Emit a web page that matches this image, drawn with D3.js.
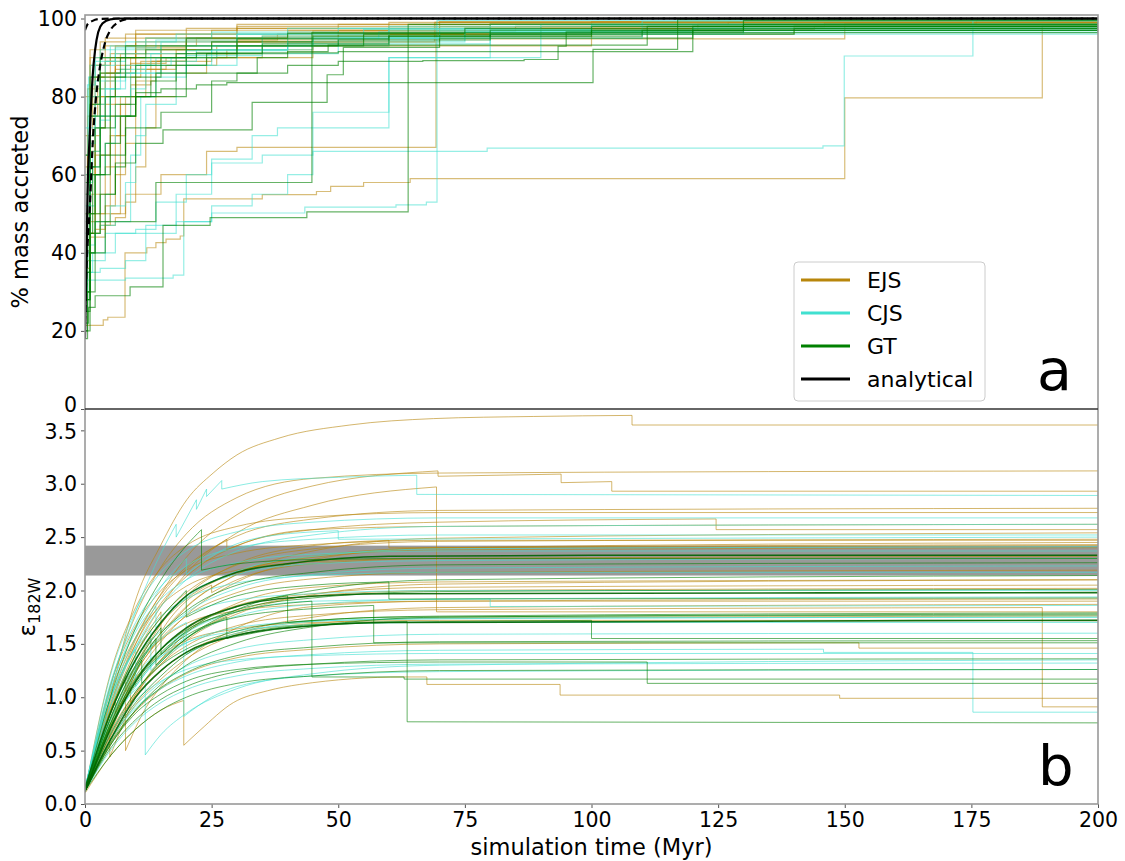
<!DOCTYPE html>
<html><head><meta charset="utf-8">
<script src="https://cdn.jsdelivr.net/npm/d3@7"></script>
<style>
body{margin:0;background:#fff;}
text{font-family:"DejaVu Sans",sans-serif;}
</style></head>
<body><svg id="c" width="1125" height="861"></svg>
<script>
// ---------- DATA ----------
const xTicks = [0,25,50,75,100,125,150,175,200];
const topTicks = [0,20,40,60,80,100];
const botTicks = [0,0.5,1,1.5,2,2.5,3,3.5];
const legendLabels = ["EJS","CJS","GT","analytical"];
const band = [2.14, 2.42];

// top panel: % mass accreted (step-after series [t, pct])
const ejsTop = [
 [[0,40],[0.5,70],[1.5,85],[3,90],[6,93],[12,95],[25,97],[60,99],[130,99.5],[200,99.5]],
 [[0,50],[1,75],[2.5,82],[4,86],[9,90],[18,92],[30,94],[55,96],[90,98],[200,98]],
 [[0,35],[1,55],[2,65],[5,75],[7,80],[10,87],[16,88],[26,93],[40,95],[70,97],[121,98.5],[200,99]],
 [[0,45],[1,70],[3,80],[6,88],[10,92],[20,94.5],[38,96],[75,97.5],[200,98]],
 [[0,30],[1,48],[2,50],[4,52],[6,60],[8,68],[10,84],[14,89],[20,92],[30,95],[50,97],[80,98.5],[200,99]],
 [[0,60],[0.5,82],[2,88],[5,91],[10,94],[20,96],[40,97],[70,98.5],[127,99],[200,99]],
 [[0,38],[1,45],[3,47],[5,50],[7,75],[9,83],[13,89],[20,91],[40,94],[69,99],[200,99]],
 [[0,45],[2,55],[4,62],[6,70],[8,80],[12,87],[18,89],[25,90],[45,93],[100,96],[140,98.2],[200,98.2]],
 [[0,55],[1,78],[3,85],[6,90],[15,93],[30,94.5],[60,94.8],[150,98.7],[200,98.7]],
 [[0,42],[1,66],[3,78],[6,86],[10,91],[20,95],[40,96.5],[80,97.2],[144,98],[200,98]],
 [[0,50],[2,80],[5,90],[10,95],[30,97.5],[70,97.9],[146,98.8],[200,98.8]],
 [[0,65],[1,88],[4,93],[10,96],[30,98],[80,98.7],[176,99.5],[200,99.5]],
 [[0,30],[1,45],[3,50],[8,55],[15,60],[24,66],[30,67],[69.3,99],[200,99]],
 [[0,21.4],[3.6,22.8],[4.5,23.5],[7.9,40],[12.2,41.3],[14,42.6],[16,43.5],[18.8,44.3],[19.5,53.8],[35,54.9],[45.7,55.7],[48.5,57],[55,58],[64.2,59],[150,79.7],[189,98.2],[200,98.2]],
 [[0,36],[1,40],[2,44],[4,47],[6,49],[8,53],[10,62],[12,72],[14,80],[18,86],[24,90],[35,93],[60,96],[100,98],[200,98.5]],
 [[0,70],[1,90],[3,94],[8,96],[20,97.5],[50,98.5],[100,99.2],[200,99.5]],
 [[0,55],[0.5,75],[2,85],[4,89],[7,91],[12,93],[22,95],[45,96.8],[85,98],[200,98.6]],
 [[0,48],[1,60],[2,72],[4,84],[6,87],[9,88.5],[16,90],[28,92],[45,94],[70,96],[110,97],[200,97.5]],
 [[0,62],[1,80],[3,86],[6,90],[10,92.5],[20,94],[35,95.5],[60,97.5],[200,98.5]],
 [[0,35],[1,44],[2,46],[4,48],[5,70],[7,78],[9,85],[11,89],[15,92],[25,94],[50,96],[90,97.5],[200,98]],
 [[0,80],[1,92],[4,95],[10,97],[30,98.5],[70,99.2],[200,99.6]]
];
const cjsTop = [
 [[0,38],[0.5,60],[1,75],[2,84],[4,89],[8,92],[15,94],[30,96],[60,98],[110,99.3],[200,99.3]],
 [[0,45],[1,72],[3,82],[6,86],[10,88],[14,90],[20,93],[35,95.5],[60,97],[100,98.5],[200,99]],
 [[0,60],[0.7,85],[2,90],[5,93],[12,95],[25,96.5],[50,97.5],[90,98.5],[200,99.5]],
 [[0,30],[0.5,42],[2,48],[5,52],[8,58],[10,70],[12,78],[18,88],[25,92],[40,95],[70,97],[200,98]],
 [[0,55],[1,80],[3,88],[6,91],[15,93],[30,95],[58,96.5],[110,97.8],[200,97.8]],
 [[0,48],[1,68],[2,75],[4,82],[7,87],[12,90],[20,91.8],[40,93.5],[80,96],[130,98],[200,99]],
 [[0,35],[1.5,40],[6,45],[12,47],[18,55],[25,63],[35,65],[45,66],[79.4,66.8],[145.7,67.4],[149.9,90.4],[175.3,99.5],[200,99.5]],
 [[0,30],[1,33],[8,33.5],[17.4,34.3],[19.5,48],[25,50.2],[43.4,51.7],[61.4,52.3],[67.4,53],[69.5,99.5],[200,99.5]],
 [[0,25],[0.5,35],[3,36],[8,38],[12,45],[18,48],[25,52],[33,55],[40,60],[45,76],[60,90],[90,97],[200,99]],
 [[0,28],[1,38],[4,45],[10,46],[14,53],[20,60],[25,64],[33,70],[38,72],[60,90],[80,96],[200,99.5]],
 [[0,40],[1,62],[3,74],[5,80],[9,86],[15,89],[22,92],[40,94],[75,96.5],[200,98.5]],
 [[0,65],[0.5,83],[2,89],[6,92.5],[14,94.5],[30,96],[55,97.2],[100,98.3],[200,98.8]],
 [[0,45],[0.5,58],[1.5,66],[3,75],[5,82],[8,86],[12,88],[17,90],[26,92],[45,94.5],[75,96.5],[120,97.5],[200,98]],
 [[0,72],[1,88],[3,92],[8,94],[18,96],[40,97.5],[80,98.5],[200,99]],
 [[0,33],[1,40],[2,45],[3,47],[6,48],[9,65],[11,80],[14,85],[20,88],[30,91],[50,95],[80,97],[200,98.5]],
 [[0,52],[1,70],[2,78],[4,84],[8,88],[13,91],[25,93],[45,95],[70,96.5],[120,97.5],[200,98]],
 [[0,38],[0.5,52],[2,60],[4,68],[6,75],[9,82],[12,86],[20,90.5],[35,93],[60,95],[110,97],[200,97.5]]
];
const gtTop = [
 [[0,18],[0.5,45],[1.5,62],[3,72],[6,78],[10,81],[15,82],[22,83],[28,83.6],[100.3,92.1],[117,99.7],[200,99.7]],
 [[0,25],[1,50],[3,65],[8,72],[15,76],[25,84],[30,86],[40,88],[50,89],[66.7,89.2],[86.7,89.5],[93.4,92.9],[95,96.6],[130,99.5],[200,99.5]],
 [[0,30],[2,60],[5,75],[10,80],[20,86],[34,90],[40,91.5],[48,93.2],[111,98],[200,98]],
 [[0,20],[1,40],[4,48],[14,58],[44.8,96.4],[200,99]],
 [[0,22],[0.7,26],[2,29],[8.9,31.3],[15.4,47],[24.7,49],[43.8,50.5],[63.8,98.5],[200,98.5]],
 [[0,28],[1,45],[3,55],[6,63],[10,68],[15.4,71.5],[33,78.5],[47.8,85.6],[51,92.6],[70,95],[120,98],[200,98]],
 [[0,35],[1,60],[3,75],[5,80],[10,85],[15,90],[22,91.2],[50,91.5],[120,97],[200,98]],
 [[0,50],[1,75],[3,85],[8,90],[20,93],[30,94.8],[60,95.5],[110,97],[200,99]],
 [[0,28],[1,50],[2,60],[4,68],[7,75],[10,80],[14,86],[20,90],[30,93],[55,96],[100,98],[200,99]],
 [[0,40],[0.5,62],[2,72],[4,80],[6,85],[10,88],[18,91],[30,93],[50,94.5],[80,96],[140,97.5],[200,98]],
 [[0,58],[1,78],[3,86],[7,90],[12,92],[25,94],[45,95.5],[80,97],[130,98.5],[200,99]],
 [[0,20],[0.5,30],[1,40],[2,48],[4,55],[6,62],[8,75],[10,80],[13,84],[18,88],[24,91],[35,93.5],[60,95.5],[100,97],[200,98]],
 [[0,65],[1,85],[3,90],[8,93],[20,95],[40,96.2],[75,97.5],[200,98.5]]
];
const analyticalSolid = [[0,18],[0.2,32],[0.5,55],[1,72],[1.5,85],[2,92],[2.6,96.5],[3.5,98.8],[5,99.8],[7,100],[200,100]];
const analyticalDashed = [[0,22],[0.2,32],[1,53],[1.6,70],[2.2,80],[3,88],[4,94],[5,97],[6.5,99],[8,99.8],[10,100],[200,100]];
const analyticalDashed2 = [[0,97],[0.5,98.5],[1.5,99.4],[3,99.9],[6,100],[200,100]];

// bottom panel: epsilon 182W ([t, value]; repeated t = sudden drop)
const ejsBot = [
 [[0,.15],[3,.6],[6,1.2],[10.2,1.94],[14.8,2.41],[20.1,2.85],[25.3,3.1],[30,3.27],[38.5,3.43],[52.3,3.55],[68.8,3.61],[88.5,3.63],[108,3.64],[108,3.55],[200,3.55]],
 [[0,.12],[5,1.10],[10,1.77],[15,2.22],[20,2.53],[30,2.87],[45,3.05],[70,3.10],[200,3.12]],
 [[0,.12],[5,.92],[10,1.54],[15,1.97],[20,2.31],[30,2.71],[45,2.98],[69.7,3.12],[69.7,3.07],[94,3.09],[94,3.01],[104,3.02],[104,2.93],[200,2.93]],
 [[0,.12],[5,.97],[10,1.56],[15,1.96],[20,2.22],[30,2.51],[45,2.67],[70,2.75],[200,2.77]],
 [[0,.12],[5,1.22],[10,1.84],[15,2.21],[20,2.42],[30,2.60],[45,2.69],[70,2.73],[200,2.73]],
 [[0,.12],[5,.94],[10,1.50],[15,1.88],[20,2.13],[30,2.42],[45,2.57],[70,2.64],[124.6,2.67],[124.6,2.57],[200,2.57]],
 [[0,.12],[5,.75],[10,1.23],[15,1.57],[20,1.84],[30,2.15],[45,2.37],[70,2.49],[200,2.54]],
 [[0,.12],[5,.88],[10,1.39],[15,1.75],[20,1.98],[30,2.24],[45,2.39],[70,2.46],[200,2.48]],
 [[0,.12],[5,1.11],[10,1.67],[15,2.0],[20,2.19],[30,2.35],[45,2.43],[70,2.47],[200,2.47]],
 [[0,.12],[5,.73],[10,1.19],[15,1.52],[20,1.77],[30,2.08],[45,2.29],[70,2.40],[200,2.45]],
 [[0,.12],[5,.85],[10,1.35],[15,1.69],[20,1.92],[30,2.17],[45,2.31],[70,2.38],[200,2.40]],
 [[0,.12],[5,1.04],[10,1.56],[15,1.86],[20,2.04],[30,2.19],[45,2.27],[70,2.30],[200,2.30]],
 [[0,.12],[5,.78],[10,1.24],[15,1.55],[20,1.76],[30,1.98],[45,2.11],[70,2.17],[200,2.19]],
 [[0,.12],[5,.63],[10,1.03],[15,1.31],[20,1.53],[30,1.78],[45,1.96],[70,2.06],[200,2.10]],
 [[0,.12],[5,.74],[10,1.16],[15,1.45],[20,1.64],[30,1.86],[45,1.97],[70,2.03],[200,2.05]],
 [[0,.12],[5,.87],[10,1.29],[15,1.54],[20,1.69],[30,1.81],[45,1.87],[70,1.90],[200,1.90]],
 [[0,.12],[5,.58],[10,.93],[15,1.17],[20,1.36],[30,1.59],[45,1.75],[70,1.84],[200,1.87]],
 [[0,.12],[5,.67],[10,1.05],[15,1.31],[20,1.48],[30,1.67],[45,1.77],[70,1.82],[189,1.84],[189,0.91],[200,0.91]],
 [[0,.12],[5,.87],[10,1.44],[15,1.85],[20,2.16],[30,2.54],[45,2.80],[69.4,2.97],[69.4,1.80],[200,1.80]],
 [[0,.12],[5,.64],[10,1.01],[15,1.25],[20,1.42],[30,1.60],[45,1.69],[70,1.74],[200,1.76]],
 [[0,.12],[5,.79],[10,1.18],[15,1.40],[20,1.53],[30,1.64],[45,1.70],[70,1.72],[200,1.72]],
 [[0,.12],[5,.56],[10,.87],[15,1.08],[20,1.22],[30,1.37],[45,1.45],[70,1.50],[152.8,1.51],[152.8,1.46],[200,1.46]],
 [[0,.1],[5,.45],[10,.7],[15,.88],[19.5,.97],[19.5,.55],[22.7,.69],[29.3,.95],[36,1.06],[42.4,1.12],[62.8,1.19],[67.5,1.19],[67.5,1.12],[93.8,1.12],[93.8,1.02],[149,1.02],[149,.99],[200,.99]],
 [[0,.12],[4.9,.75],[4.9,.44],[10,1.0],[15,1.35],[20,1.6],[30,1.88],[45,2.03],[70,2.08],[200,2.1]],
 [[0,.12],[8,1.0],[8,.5],[12,.9],[15,1.1],[20,1.35],[30,1.65],[45,1.85],[70,1.9],[200,1.92]],
 [[0,.12],[3,.6],[6,.98],[6,.85],[10,1.3],[13,1.55],[13,1.45],[17,1.75],[20,1.9],[25,2.05],[25,1.98],[30,2.1],[45,2.25],[70,2.3],[200,2.32]],
 [[0,.12],[4,.7],[8,1.2],[8,1.05],[12,1.45],[16,1.75],[20,1.95],[30,2.25],[45,2.42],[60,2.47],[60,2.4],[200,2.42]],
 [[0,.12],[5,.85],[10,1.4],[15,1.8],[15,1.6],[20,1.85],[30,2.15],[45,2.32],[70,2.4],[200,2.43]],
 [[0,.12],[5,.9],[10,1.5],[15,1.93],[20,2.2],[28,2.48],[28,2.38],[35,2.5],[45,2.57],[70,2.6],[200,2.62]],
 [[0,.12],[5,.7],[9,1.1],[9,0.95],[14,1.3],[20,1.55],[30,1.8],[45,1.95],[70,2.0],[200,2.02]]
];
const cjsBot = [
 [[0,.15],[5,1.1],[10,1.8],[15,2.35],[18,2.62],[18,2.5],[22,2.85],[22,2.76],[24,2.95],[24,2.88],[27,3.03],[27,2.95],[35,3.02],[50,3.06],[65.5,3.08],[65.5,2.9],[200,2.89]],
 [[0,.12],[5,1.2],[10,1.81],[15,2.17],[20,2.37],[30,2.55],[45,2.64],[70,2.68],[200,2.68]],
 [[0,.12],[5,.92],[10,1.47],[15,1.85],[20,2.10],[30,2.37],[45,2.52],[70,2.60],[200,2.62]],
 [[0,.12],[5,1.13],[10,1.70],[15,2.04],[20,2.23],[30,2.40],[45,2.48],[70,2.52],[200,2.52]],
 [[0,.12],[5,.85],[10,1.36],[15,1.70],[20,1.93],[30,2.18],[45,2.32],[70,2.39],[200,2.41]],
 [[0,.12],[5,1.07],[10,1.61],[15,1.92],[20,2.10],[30,2.26],[45,2.34],[70,2.37],[200,2.37]],
 [[0,.12],[5,.80],[10,1.26],[15,1.58],[20,1.79],[30,2.02],[45,2.15],[70,2.21],[200,2.23]],
 [[0,.12],[5,.98],[10,1.47],[15,1.76],[20,1.92],[30,2.07],[45,2.14],[70,2.17],[200,2.17]],
 [[0,.12],[5,.70],[10,1.10],[15,1.38],[20,1.56],[30,1.76],[45,1.87],[70,1.92],[200,1.94]],
 [[0,.12],[5,.78],[10,1.16],[15,1.38],[20,1.51],[30,1.62],[45,1.68],[70,1.70],[200,1.70]],
 [[0,.12],[5,.59],[10,.92],[15,1.14],[20,1.29],[30,1.45],[45,1.54],[70,1.59],[200,1.60]],
 [[0,.15],[5,.6],[10,.9],[15,1.08],[20,1.2],[30,1.33],[45,1.4],[70,1.44],[145.8,1.45],[145.8,1.42],[175.3,1.42],[175.3,.86],[200,.86]],
 [[0,.12],[5,.66],[10,.97],[15,1.15],[20,1.26],[30,1.35],[45,1.39],[70,1.41],[200,1.41]],
 [[0,.12],[5,.50],[10,.77],[15,.95],[20,1.07],[30,1.2],[45,1.27],[70,1.31],[200,1.32]],
 [[0,.15],[5,.75],[11.9,1.15],[11.9,.46],[15,.65],[20,.85],[30,1.08],[45,1.22],[70,1.3],[200,1.35]],
 [[0,.15],[5,.8],[10,1.2],[15,1.45],[19.5,1.6],[19.5,.82],[25,1.0],[30,1.1],[45,1.2],[70,1.24],[200,1.26]],
 [[0,.12],[5,.91],[10,1.36],[15,1.62],[20,1.77],[30,1.91],[45,1.97],[70,2.0],[200,2.0]],
 [[0,.15],[4,.9],[8,1.45],[12,1.8],[16,2.1],[20,2.3],[20,2.15],[26,2.35],[35,2.5],[50,2.56],[50,2.48],[200,2.5]],
 [[0,.15],[5,1.0],[10,1.55],[14,1.85],[14,1.65],[20,1.95],[30,2.15],[45,2.25],[70,2.28],[200,2.3]],
 [[0,.15],[3,.7],[7,1.2],[10,1.45],[10,1.1],[15,1.4],[20,1.6],[30,1.8],[45,1.9],[80,1.92],[80,1.85],[200,1.86]],
 [[0,.15],[5,.85],[10,1.3],[15,1.55],[20,1.7],[20,1.4],[25,1.52],[35,1.65],[50,1.72],[90,1.74],[200,1.75]],
 [[0,.15],[4,.85],[8,1.3],[13,1.62],[13,1.25],[18,1.45],[25,1.6],[40,1.7],[70,1.74],[200,1.75]]
];
const gtBot = [
 [[0,.12],[5,.80],[10,1.28],[15,1.60],[20,1.81],[30,2.05],[45,2.17],[70,2.24],[200,2.26]],
 [[0,.12],[5,.65],[10,1.05],[15,1.33],[20,1.55],[30,1.82],[45,2.0],[70,2.10],[200,2.14]],
 [[0,.12],[5,.72],[10,1.14],[15,1.42],[20,1.61],[30,1.82],[45,1.93],[70,1.99],[200,2.01]],
 [[0,.12],[5,.55],[10,.88],[15,1.12],[20,1.30],[30,1.51],[45,1.66],[70,1.75],[200,1.78]],
 [[0,.12],[5,.57],[10,.88],[15,1.09],[20,1.23],[30,1.39],[45,1.47],[70,1.52],[200,1.53]],
 [[0,.12],[5,.72],[10,1.12],[15,1.4],[20,1.58],[30,1.75],[45,1.83],[57,1.86],[57,1.51],[200,1.51]],
 [[0,.12],[5,.52],[10,.79],[15,.98],[20,1.10],[30,1.24],[45,1.31],[70,1.35],[200,1.36]],
 [[0,.12],[5,.45],[10,.7],[15,.88],[20,1.0],[30,1.13],[45,1.2],[70,1.25],[200,1.26]],
 [[0,.12],[5,.75],[10,1.17],[15,1.45],[20,1.63],[30,1.8],[44.8,1.9],[44.8,1.19],[63,1.19],[63,1.17],[200,1.17]],
 [[0,.12],[5,.55],[10,.85],[15,1.03],[20,1.15],[30,1.26],[45,1.31],[70,1.33],[111,1.33],[111,1.13],[200,1.13]],
 [[0,.12],[5,.6],[10,.95],[15,1.2],[20,1.4],[30,1.58],[45,1.68],[63.6,1.71],[63.6,.77],[200,.76]],
 [[0,.12],[5,1.0],[10,1.65],[15,2.1],[20,2.42],[23,2.57],[23,2.19],[30,2.25],[45,2.29],[70,2.3],[200,2.3]],
 [[0,.12],[5,.7],[11.2,1.35],[11.2,1.13],[15,1.3],[20,1.45],[30,1.62],[45,1.72],[70,1.76],[200,1.79]],
 [[0,.12],[5,.8],[10,1.3],[15,1.65],[15,1.4],[20,1.62],[30,1.85],[40,1.95],[40,1.7],[60,1.75],[200,1.77]],
 [[0,.12],[5,.75],[10,1.25],[14,1.55],[14,1.3],[20,1.55],[28,1.75],[28,1.55],[40,1.65],[60,1.7],[100,1.72],[100,1.55],[200,1.55]],
 [[0,.12],[5,.85],[10,1.4],[16,1.8],[20,2.0],[20,1.75],[30,1.95],[45,2.05],[60,2.08],[60,1.92],[200,1.93]]
];
const gtBotBold = [
 [[0,.15],[5,.85],[10,1.35],[15,1.7],[20,1.95],[25,2.08],[30,2.17],[40,2.25],[50,2.3],[60,2.32],[100,2.33],[200,2.33]],
 [[0,.12],[5,.7],[10,1.15],[15,1.45],[20,1.65],[30,1.85],[40,1.93],[60,1.97],[200,1.98]],
 [[0,.12],[5,.6],[10,1.0],[15,1.25],[20,1.42],[30,1.58],[45,1.67],[60,1.7],[200,1.72]]
];

// ---------- DRAW ----------
const colors = {EJS:"#b8860b", CJS:"#40e0d0", GT:"#008000", analytical:"#000"};
const svg = d3.select("#c");
const L = 85, R = 1098, topT = 15, mid = 409, bot = 804;
const x = d3.scaleLinear().domain([0,200]).range([L,R]);
const yT = d3.scaleLinear().domain([0,100.9]).range([mid,topT]);
const yB = d3.scaleLinear().domain([0,3.7]).range([bot,mid]);

svg.append("defs").html(
 `<clipPath id="cT"><rect x="${L}" y="${topT}" width="${R-L}" height="${mid-topT}"/></clipPath>
  <clipPath id="cB"><rect x="${L}" y="${mid}" width="${R-L}" height="${bot-mid}"/></clipPath>`);

// top panel
const gT = svg.append("g").attr("clip-path","url(#cT)");
const stepLine = d3.line().x(d=>x(d[0])).y(d=>yT(d[1])).curve(d3.curveStepAfter);
function drawTop(arr, col, op){
  gT.selectAll(null).data(arr).enter().append("path")
   .attr("d", stepLine).attr("fill","none").attr("stroke",col)
   .attr("stroke-width",1.2).attr("stroke-opacity",op);
}
drawTop(ejsTop, colors.EJS, 0.55);
drawTop(cjsTop, colors.CJS, 0.55);
drawTop(gtTop, colors.GT, 0.6);
const smoothT = d3.line().x(d=>x(d[0])).y(d=>yT(d[1])).curve(d3.curveMonotoneX);
gT.append("path").attr("d", smoothT(analyticalSolid)).attr("fill","none").attr("stroke","#000").attr("stroke-width",2.2);
gT.append("path").attr("d", smoothT(analyticalDashed)).attr("fill","none").attr("stroke","#000").attr("stroke-width",2.2).attr("stroke-dasharray","7,4");
gT.append("path").attr("d", smoothT(analyticalDashed2)).attr("fill","none").attr("stroke","#000").attr("stroke-width",2.2).attr("stroke-dasharray","7,4");

// bottom panel
const gB = svg.append("g").attr("clip-path","url(#cB)");
gB.append("rect").attr("x",L).attr("width",R-L)
  .attr("y",yB(band[1])).attr("height",yB(band[0])-yB(band[1])).attr("fill","#999");
const smoothB = d3.line().x(d=>x(d[0])).y(d=>yB(d[1])).curve(d3.curveMonotoneX);
function piecePath(pts){
  const pieces=[]; let cur=[pts[0]];
  for(let i=1;i<pts.length;i++){
    if(pts[i][0]===pts[i-1][0]){ pieces.push(cur); cur=[pts[i]]; }
    else cur.push(pts[i]);
  }
  pieces.push(cur);
  return pieces.map((p,i)=>{
    let s = p.length>1 ? smoothB(p) : `M${x(p[0][0])},${yB(p[0][1])}`;
    s = s.replace(/Z$/,"");
    return i ? s.replace(/^M/,"L") : s;
  }).join("");
}
function drawBot(arr,col,op,w){
  gB.selectAll(null).data(arr).enter().append("path")
   .attr("d", piecePath).attr("fill","none").attr("stroke",col)
   .attr("stroke-width",w).attr("stroke-opacity",op);
}
drawBot(ejsBot, colors.EJS, 0.6, 1);
drawBot(cjsBot, colors.CJS, 0.6, 1);
drawBot(gtBot, colors.GT, 0.6, 1);
drawBot(gtBotBold, "#006400", 0.9, 1.6);

// axes
const fs = "20.5px";
function styleAxis(g){
  g.select(".domain").remove();
  g.selectAll(".tick line").attr("stroke","#555");
  g.selectAll(".tick text").attr("fill","#000").style("font-size",fs).style("font-family","DejaVu Sans");
}
const axT = svg.append("g").attr("transform",`translate(${L},0)`)
  .call(d3.axisLeft(yT).tickValues(topTicks).tickSize(4).tickPadding(4)).call(styleAxis);
axT.selectAll(".tick text").filter(d=>d===0).attr("dy","0.14em");
const axB = svg.append("g").attr("transform",`translate(${L},0)`)
  .call(d3.axisLeft(yB).tickValues(botTicks).tickFormat(d3.format(".1f")).tickSize(4).tickPadding(4)).call(styleAxis);
axB.selectAll(".tick text").filter(d=>d===3.5).attr("dy","0.4em");
svg.append("g").attr("transform",`translate(0,${bot})`)
  .call(d3.axisBottom(x).tickValues(xTicks).tickSize(4).tickPadding(4)).call(styleAxis);

// frame
svg.append("rect").attr("x",L).attr("y",topT).attr("width",R-L).attr("height",bot-topT)
  .attr("fill","none").attr("stroke","#999").attr("stroke-width",1.6);
svg.append("line").attr("x1",L).attr("x2",R).attr("y1",mid).attr("y2",mid).attr("stroke","#333").attr("stroke-width",1.3);

// labels
svg.append("text").attr("transform",`translate(28,212) rotate(-90)`).attr("text-anchor","middle")
  .style("font-size","22.5px").text("% mass accreted");
const yl = svg.append("text").attr("transform",`translate(35,607) rotate(-90)`).attr("text-anchor","middle").style("font-size","23px");
yl.append("tspan").text("ε");
yl.append("tspan").attr("dy",5).style("font-size","16px").text("182W");
svg.append("text").attr("x",(L+R)/2).attr("y",855).attr("text-anchor","middle").style("font-size","22.5px").text("simulation time (Myr)");
svg.append("text").attr("x",1037).attr("y",390).style("font-size","57px").text("a");
svg.append("text").attr("x",1038).attr("y",785).style("font-size","56px").text("b");

// legend
const lg = svg.append("g");
lg.append("rect").attr("x",794).attr("y",262).attr("width",191).attr("height",139).attr("rx",4)
  .attr("fill","#fff").attr("fill-opacity",0.85).attr("stroke","#ccc");
legendLabels.forEach((lab,i)=>{
  const yy = 280 + i*33;
  lg.append("line").attr("x1",801).attr("x2",850).attr("y1",yy).attr("y2",yy)
    .attr("stroke",colors[lab]).attr("stroke-width",3);
  lg.append("text").attr("x",867).attr("y",yy+7.5).style("font-size","22px").text(lab);
});
</script></body></html>
